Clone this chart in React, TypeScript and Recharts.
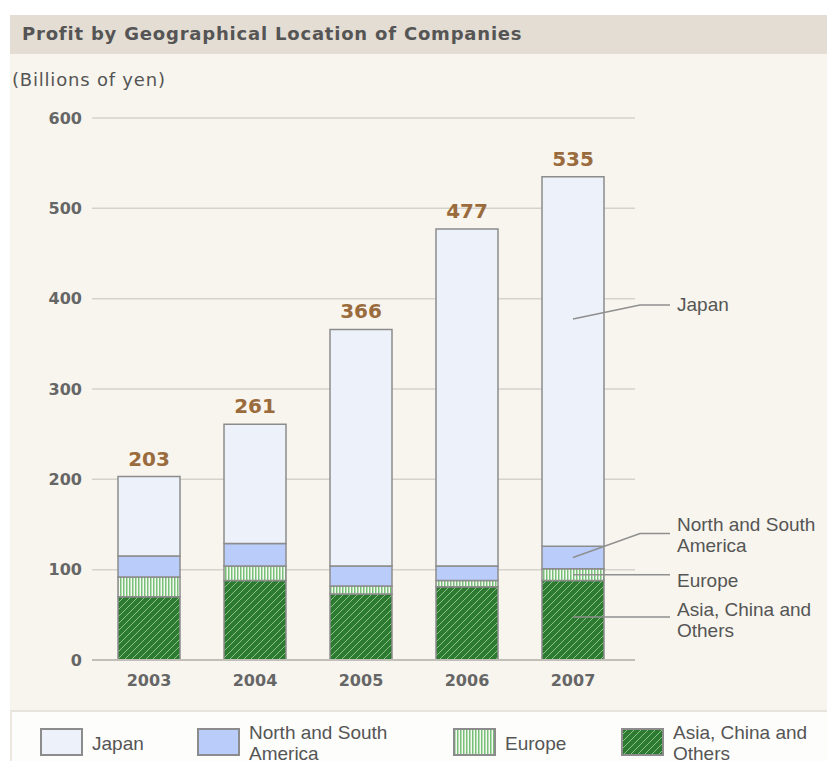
import React from 'react';
import { BarChart, Bar, XAxis, YAxis, CartesianGrid, LabelList } from 'recharts';

// ---- data ----
const years = ['2003', '2004', '2005', '2006', '2007'];
const asiaOthers = [70, 88, 73, 81, 88];
const europe = [22, 16, 9, 7, 13];
const americas = [23, 25, 22, 16, 25];
const japan = [88, 132, 262, 373, 409];
const totals = [203, 261, 366, 477, 535];
const yTicks = [0, 100, 200, 300, 400, 500, 600];

const data = years.map((year, i) => ({
  year,
  asia: asiaOthers[i],
  europe: europe[i],
  americas: americas[i],
  japan: japan[i],
  total: totals[i],
}));

// ---- styles ----
const STROKE = '#8c8c8c';
const TEXT = '#555555';
const SANS = "'Liberation Sans', Arial, sans-serif";
const DEJAVU = "'DejaVu Sans', Verdana, sans-serif";
const LABEL_SIZE = 19;

type Callout = { frac: number; rise: number; lines: string[]; dys: number[] };

const series: { key: string; name: string[]; pat: string | null; fill: string; callout: Callout }[] = [
  { key: 'asia', name: ['Asia, China and', 'Others'], pat: 'asiaPat', fill: '#2c7b31', callout: { frac: 0.46, rise: 0, lines: ['Asia, China and', 'Others'], dys: [-8, 13] } },
  { key: 'europe', name: ['Europe'], pat: 'europePat', fill: '#f4faf2', callout: { frac: 0.5, rise: 0, lines: ['Europe'], dys: [6] } },
  { key: 'americas', name: ['North and South', 'America'], pat: null, fill: '#b9ccfa', callout: { frac: 0.5, rise: 24, lines: ['North and South', 'America'], dys: [-9, 12] } },
  { key: 'japan', name: ['Japan'], pat: null, fill: '#edf1f9', callout: { frac: 0.385, rise: 14, lines: ['Japan'], dys: [0] } },
];

const legendOrder = ['japan', 'americas', 'europe', 'asia'];
const legendSwatchX = [30, 187, 443, 611];

const makeCallout = (c: Callout) => (props: any) => {
  const { x, y, width, height, index } = props;
  if (index !== years.length - 1) return null;
  const cx = Number(x) + Number(width) / 2;
  const right = Number(x) + Number(width);
  const ys = Number(y) + Number(height) * c.frac;
  const ye = ys - c.rise;
  const pts = `${cx},${ys} ${right + 36},${ye} ${right + 66},${ye}`;
  return (
    <g>
      <polyline points={pts} fill="none" stroke="#8f8f8f" strokeWidth={1.5} />
      {c.lines.map((ln, i) => (
        <text key={i} x={right + 73} y={ye + c.dys[i]} dominantBaseline="central" fontFamily={SANS} fontSize={LABEL_SIZE} fill={TEXT}>
          {ln}
        </text>
      ))}
    </g>
  );
};

const PatternDefs = ({ p }: { p: string }) => (
  <defs>
    <pattern id={`${p}europePat`} patternUnits="userSpaceOnUse" width="3" height="3">
      <rect width="3" height="3" fill="#f4faf2" />
      <rect width="1.5" height="3" fill="#78bf78" />
    </pattern>
    <pattern id={`${p}asiaPat`} patternUnits="userSpaceOnUse" width="7" height="7">
      <rect width="7" height="7" fill="#2c7b31" />
      <path d="M0,7 L7,0 M-2,2 L2,-2 M5,9 L9,5" stroke="#8cc18c" strokeWidth="1" />
    </pattern>
  </defs>
);

const fillFor = (s: { pat: string | null; fill: string }, prefix: string) => (s.pat ? `url(#${prefix}${s.pat})` : s.fill);

export default function App() {
  return (
    <div style={{ position: 'relative', width: 835, height: 769, margin: '-8px', background: '#ffffff', overflow: 'hidden' }}>
      <div style={{ position: 'absolute', left: 10, top: 54, width: 825, height: 656, background: '#f8f5ee' }} />
      <div
        style={{
          position: 'absolute', left: 10, top: 15, width: 825, height: 39, background: '#e4ddd3',
          fontFamily: DEJAVU, fontWeight: 'bold', fontSize: 18, letterSpacing: 0.8, color: TEXT, lineHeight: '37px', paddingLeft: 12, boxSizing: 'border-box',
          whiteSpace: 'nowrap',
        }}
      >
        Profit by Geographical Location of Companies
      </div>
      <div style={{ position: 'absolute', left: 12, top: 68, fontFamily: DEJAVU, fontSize: 18, letterSpacing: 0.8, color: TEXT, lineHeight: '24px', whiteSpace: 'nowrap' }}>
        (Billions of yen)
      </div>
      <div style={{ position: 'absolute', left: 0, top: 0 }}>
        <BarChart width={835} height={769} data={data} margin={{ top: 118, right: 200, bottom: 79, left: 0 }} barSize={62}>
          <PatternDefs p="" />
          <CartesianGrid vertical={false} stroke="#d5d2cc" strokeWidth={1.5} />
          <XAxis
            dataKey="year"
            height={30}
            padding={{ left: 4, right: 9 }}
            axisLine={{ stroke: '#c2bfb9', strokeWidth: 2 }}
            tickLine={false}
            tickSize={0}
            tickMargin={15}
            tick={{ fill: '#666', fontSize: 16, fontWeight: 'bold', fontFamily: DEJAVU }}
          />
          <YAxis
            width={92}
            domain={[0, 600]}
            ticks={yTicks}
            axisLine={false}
            tickLine={false}
            tickSize={0}
            tickMargin={10}
            tick={{ fill: '#666', fontSize: 16, fontWeight: 'bold', fontFamily: DEJAVU }}
          />
          {series.map((s) => (
            <Bar key={s.key} dataKey={s.key} stackId="a" fill={fillFor(s, '')} stroke={STROKE} strokeWidth={1.5} isAnimationActive={false}>
              <LabelList content={makeCallout(s.callout)} />
              {s.key === 'japan' && (
                <LabelList
                  dataKey="total"
                  position="top"
                  offset={11}
                  fill="#9a6b3d"
                  fontSize={20}
                  fontWeight="bold"
                  fontFamily={DEJAVU}
                />
              )}
            </Bar>
          ))}
        </BarChart>
      </div>
      <div
        style={{
          position: 'absolute', left: 10, top: 710, width: 825, height: 59, background: '#fdfdfc',
          borderTop: '2px solid #e9e4db', borderLeft: '2px solid #ece8e0', boxSizing: 'border-box',
        }}
      >
        <svg width={823} height={57} style={{ position: 'absolute', left: -2, top: -2, overflow: 'visible' }}>
          <PatternDefs p="lg" />
          {legendOrder.map((k, i) => {
            const s = series.find((d) => d.key === k)!;
            const sx = legendSwatchX[i];
            const cy = 33;
            const tx = sx + 52;
            const dys = s.name.length === 1 ? [0] : [-10.5, 10.5];
            return (
              <g key={k}>
                <rect x={sx + 1} y={cy - 14} width={41} height={26} fill={fillFor(s, 'lg')} stroke={STROKE} strokeWidth={2} />
                {s.name.map((n, j) => (
                  <text key={j} x={tx} y={cy + dys[j]} dominantBaseline="central" fontFamily={SANS} fontSize={LABEL_SIZE} fill={TEXT}>
                    {n}
                  </text>
                ))}
              </g>
            );
          })}
        </svg>
      </div>
    </div>
  );
}
